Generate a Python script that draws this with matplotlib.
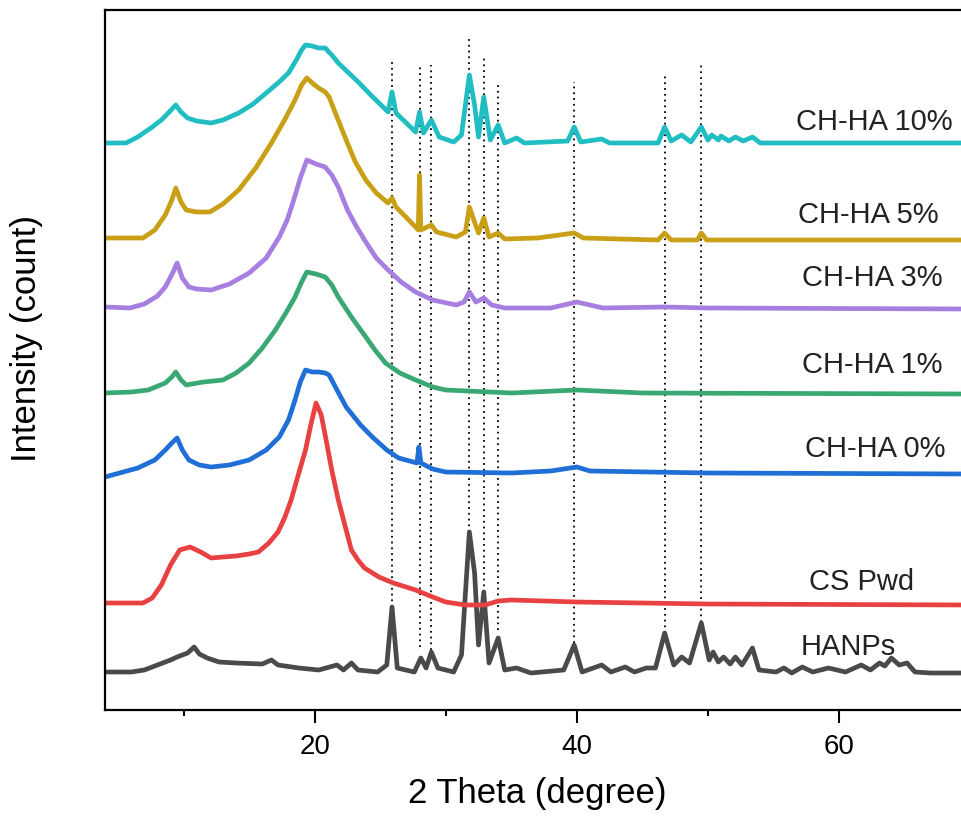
import matplotlib
matplotlib.use('Agg')
import matplotlib.pyplot as plt
from matplotlib.ticker import MultipleLocator

plt.rcParams['font.family'] = ['Liberation Sans', 'DejaVu Sans']

# XRD patterns, intensity (arbitrary units, stacked)
hanps_x = [4, 6, 7, 8, 9, 9.5, 10.3, 10.8, 11.2, 11.8, 12.7, 14, 16.0, 16.7, 17.2, 18.8, 20.3,
           21.7, 22.2, 22.8, 23.3, 24.8, 25.5, 25.9, 26.3, 27.6, 28.1, 28.5, 28.9, 29.4, 30.6,
           31.2, 31.8, 32.2, 32.5, 32.9, 33.3, 34.0, 34.5, 35.4, 36.5, 39.0, 39.8, 40.4, 41.9,
           42.6, 43.7, 44.4, 45.3, 46.0, 46.7, 47.4, 48.0, 48.6, 49.5, 50.1, 50.4, 50.8, 51.2,
           51.7, 52.1, 52.6, 53.4, 53.9, 55.2, 55.8, 56.4, 57.2, 58.0, 59.2, 60.5, 61.7, 62.4,
           63.1, 63.5, 64.0, 64.6, 65.2, 65.8, 67, 70]
hanps_y = [38, 38, 40, 45, 50, 53, 57, 63, 56, 52, 48, 47, 46, 50, 45, 42, 40,
           45, 40, 47, 40, 38, 45, 103, 42, 38, 52, 42, 58, 42, 38,
           55, 178, 137, 65, 118, 47, 72, 40, 42, 37, 40, 65, 38, 45,
           38, 43, 38, 42, 42, 77, 45, 53, 47, 87, 50, 58, 48, 53,
           46, 53, 45, 62, 40, 38, 42, 37, 43, 38, 42, 38, 45, 40,
           47, 44, 52, 45, 47, 38, 37, 37]

cs_x = [4, 6.9, 7.6, 8.3, 9.0, 9.7, 10.5, 11.3, 12.1, 13, 14, 15, 15.7, 16.5, 17.2, 17.7, 18.2,
        18.7, 19.3, 19.7, 20.1, 20.5, 20.9, 21.3, 21.8, 22.3, 22.8, 23.3, 23.8, 24.9, 26, 27.7,
        29, 30, 31.5, 33, 34, 35, 40, 50, 70]
cs_y = [107, 107, 112, 125, 145, 160, 163, 158, 152, 153, 154, 156, 158, 167, 178, 192, 210,
        233, 260, 285, 307, 295, 268, 240, 210, 185, 160, 150, 142, 133, 127, 120,
        113, 108, 105, 105, 109, 110, 108, 106, 105]

ha0_x = [4, 6.5, 7.8, 8.6, 9.1, 9.5, 9.9, 10.4, 11.2, 12.1, 13.5, 15, 16.3, 17.3, 18, 18.5, 18.9,
         19.3, 19.8, 20.3, 20.8, 21.1, 21.7, 22.4, 23.5, 24.4, 25.5, 26.4, 27.8, 27.95, 28.1,
         29, 30, 35, 38, 40, 41, 50, 70]
ha0_y = [233, 242, 250, 260, 267, 272, 260, 250, 245, 243, 245, 250, 260, 273, 290, 310, 328,
         340, 338, 338, 337, 335, 320, 303, 285, 273, 260, 252, 247, 263, 247,
         241, 238, 237, 239, 243, 239, 237, 236]

ha1_x = [4, 6, 7.3, 8.6, 9.1, 9.4, 9.8, 10.2, 11.5, 13, 14, 15, 16, 17, 17.8, 18.5, 19.0, 19.4,
         20.1, 20.8, 21.3, 21.8, 22.8, 23.9, 24.6, 25.4, 26.5, 27.7, 29, 30, 35, 40, 45, 70]
ha1_y = [317, 318, 320, 327, 333, 338, 330, 325, 328, 330, 337, 347, 362, 380, 397, 413, 428, 438,
         436, 433, 425, 413, 393, 373, 360, 347, 337, 330, 323, 320, 317, 320, 317, 316]

ha3_x = [4, 5.9, 7, 8, 8.6, 9.2, 9.5, 9.9, 10.4, 11, 12.1, 13.5, 15, 16.3, 17.3, 17.9, 18.4,
         18.9, 19.4, 20.1, 20.8, 21.3, 21.8, 22.5, 23.2, 23.9, 24.7, 25.6, 26.6, 27.7, 29,
         30.8, 31.4, 31.8, 32.3, 32.9, 33.5, 34.5, 38, 40, 42, 46.7, 50, 70]
ha3_y = [403, 402, 406, 414, 423, 438, 447, 432, 423, 421, 420, 426, 437, 452, 473, 490, 510,
         532, 550, 546, 543, 535, 523, 500, 483, 468, 452, 440, 428, 418, 410,
         405, 408, 418, 408, 412, 405, 402, 402, 408, 402, 403, 402, 401]

ha5_x = [4, 6.9, 7.8, 8.6, 9.1, 9.4, 9.8, 10.2, 11, 12, 13, 14.2, 15.5, 16.7, 17.7, 18.5, 19.0,
         19.4, 19.9, 20.3, 20.8, 21.1, 21.7, 22.4, 23.1, 23.9, 24.7, 25.6, 25.9, 26.2, 27.7,
         27.9, 28.0, 28.1, 28.9, 29.3, 30.8, 31.5, 31.8, 32.3, 32.5, 32.9, 33.3, 34.0, 34.5,
         37, 39.8, 40.5, 46.2, 46.7, 47.2, 49.2, 49.5, 49.9, 70]
ha5_y = [472, 472, 480, 495, 510, 522, 508, 500, 498, 498, 506, 520, 542, 567, 590, 610, 625,
         632, 626, 622, 618, 613, 593, 570, 548, 530, 517, 507, 512, 503, 483,
         480, 535, 480, 485, 478, 473, 478, 503, 484, 477, 492, 473, 477, 471,
         472, 477, 472, 470, 477, 470, 470, 477, 470, 470]

ha10_x = [4, 5.6, 6.5, 7.5, 8.3, 8.9, 9.4, 9.8, 10.3, 11, 12.1, 13, 14.2, 15.3, 16.3, 17.2, 18,
          18.6, 19.0, 19.3, 19.8, 20.3, 20.8, 21.3, 21.8, 22.6, 23.4, 24.2, 24.9, 25.6, 25.9,
          26.2, 27.7, 28.0, 28.3, 28.9, 29.5, 30.6, 31.2, 31.8, 32.2, 32.5, 32.9, 33.4, 34.0,
          34.5, 35.4, 36, 39.3, 39.8, 40.3, 41.9, 42.5, 46.2, 46.7, 47.2, 48.0, 48.7, 49.5,
          50.0, 50.3, 50.8, 51.0, 51.6, 52.1, 52.7, 53.4, 54, 70]
ha10_y = [567, 567, 573, 582, 590, 598, 605, 598, 592, 589, 587, 590, 597, 606, 617, 627, 637,
          650, 660, 665, 664, 662, 662, 655, 647, 637, 627, 616, 607, 598, 618,
          597, 578, 598, 577, 590, 573, 568, 575, 635, 605, 573, 613, 570, 585,
          567, 572, 567, 569, 583, 568, 571, 567, 567, 583, 569, 575, 568, 583,
          570, 575, 570, 574, 569, 573, 569, 573, 567, 567]

labels = ['HANPs', 'CS Pwd', 'CH-HA 0%', 'CH-HA 1%', 'CH-HA 3%', 'CH-HA 5%', 'CH-HA 10%']
label_x = [57.1, 57.7, 57.4, 57.2, 57.2, 56.9, 56.7]
label_y = [63, 128, 261, 345, 432, 495, 588]
colors = ['#4a4a4a', '#e84142', '#1f6fd6', '#3aa873', '#a77fe0', '#c9a015', '#20bec3']

# reference HA peak positions (dotted guides)
peak_pos = [25.9, 28.0, 28.9, 31.8, 32.9, 34.0, 39.8, 46.7, 49.5]
peak_low = [103, 63, 60, 178, 118, 80, 67, 77, 88]
peak_high = [650, 645, 645, 672, 653, 628, 628, 634, 645]

series_x = [hanps_x, cs_x, ha0_x, ha1_x, ha3_x, ha5_x, ha10_x]
series_y = [hanps_y, cs_y, ha0_y, ha1_y, ha3_y, ha5_y, ha10_y]

fig = plt.figure(figsize=(9.61, 8.16), dpi=100)
ax = fig.add_axes([105 / 961, 106 / 816, 865 / 961, 700 / 816])

ax.vlines(peak_pos, peak_low, peak_high, colors='black', linestyles=(0, (1, 2.2)), linewidth=1.3)

for xs, ys, c in zip(series_x, series_y, colors):
    ax.plot(xs, ys, color=c, linewidth=3.4, solid_joinstyle='round')

for lab, lx, ly in zip(labels, label_x, label_y):
    ax.text(lx, ly, lab, fontsize=21, ha='left', va='center', color='#222222')

ax.set_xlim(4, 70)
ax.set_ylim(0, 700)
ax.xaxis.set_major_locator(MultipleLocator(20))
ax.xaxis.set_minor_locator(MultipleLocator(10))
ax.tick_params(axis='x', which='major', direction='out', length=9, width=1.5, labelsize=20, pad=8)
ax.tick_params(axis='x', which='minor', direction='out', length=4, width=1.5)
ax.set_yticks([])
for s in ax.spines.values():
    s.set_linewidth(1.6)

ax.set_xlabel('2 Theta (degree)', fontsize=25)
ax.xaxis.set_label_coords(0.5, -0.095)
ax.set_ylabel('Intensity (count)', fontsize=25)
ax.yaxis.set_label_coords(-0.072, 0.53)

fig.savefig('out.png', dpi=100)
